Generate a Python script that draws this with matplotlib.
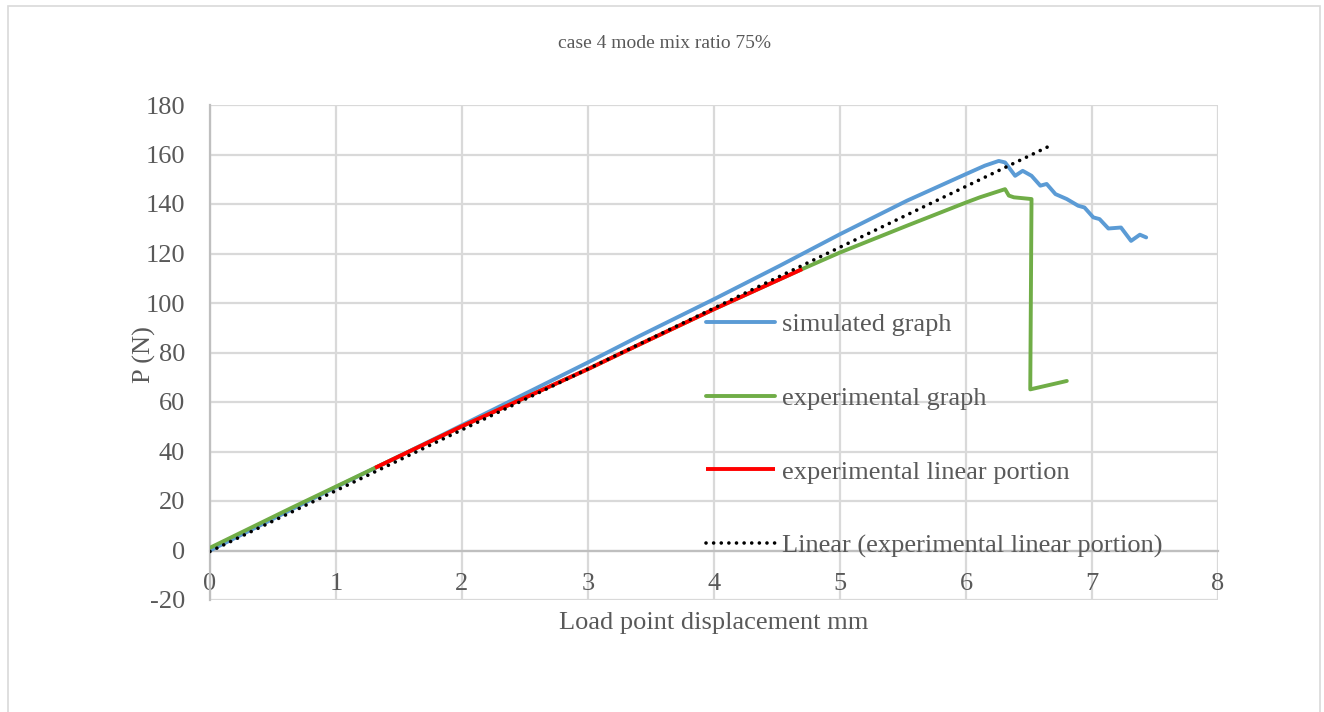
import matplotlib
matplotlib.use("Agg")
import matplotlib.pyplot as plt
from matplotlib.patches import Rectangle

# ---- data ----
sim_x = [0.0, 0.5, 1.0, 1.825, 3.0, 3.41, 4.01, 4.52, 5.0, 5.53, 6.0, 6.15, 6.26, 6.31,
         6.39, 6.45, 6.52, 6.59, 6.64, 6.71, 6.80, 6.89, 6.94, 7.01, 7.06, 7.13, 7.23,
         7.31, 7.38, 7.43]
sim_y = [0.0, 12.8, 25.6, 46.2, 76.0, 86.7, 101.8, 115.0, 127.8, 141.3, 152.1, 155.5, 157.4, 156.8,
         151.4, 153.4, 151.4, 147.4, 148.1, 144.0, 142.0, 139.3, 138.6, 134.6, 133.9, 130.1, 130.5,
         125.1, 127.6, 126.5]

exp_x = [0.0, 0.65, 1.31, 2.0, 3.0, 3.41, 4.0, 4.70, 5.0, 5.53, 6.0, 6.11, 6.31, 6.34, 6.38,
         6.52, 6.51, 6.80]
exp_y = [1.1, 17.3, 33.4, 50.2, 73.3, 83.3, 97.5, 113.7, 120.4, 131.2, 140.6, 142.7, 146.0, 143.4, 142.7,
         142.0, 65.1, 68.5]

lin_x = [1.31, 2.0, 3.0, 3.41, 4.0, 4.70]
lin_y = [33.4, 50.2, 73.3, 83.3, 97.5, 113.7]

trend_x = [0.0, 6.67]
trend_y = [-0.4, 163.6]

x_ticks = [0, 1, 2, 3, 4, 5, 6, 7, 8]
y_ticks = [-20, 0, 20, 40, 60, 80, 100, 120, 140, 160, 180]

title = "case 4 mode mix ratio 75%"
xlabel = "Load point displacement mm"
ylabel = "P (N)"
labels = ["simulated graph", "experimental graph", "experimental linear portion",
          "Linear (experimental linear portion)"]

# ---- style ----
plt.rcParams['font.family'] = ['Liberation Serif', 'DejaVu Serif']
TXT = '#595959'
GRID = '#D9D9D9'
AX = '#BFBFBF'
FS = 19
TFS = 14

W, H = 1324, 712
fig = plt.figure(figsize=(W / 100, H / 100), dpi=100)

# outer chart border
fig.patches.append(Rectangle((8 / W, -0.05), (1320 - 8) / W, 1.05 - 6 / H,
                             transform=fig.transFigure, fill=False, edgecolor=GRID,
                             linewidth=1.2))

ax = fig.add_axes([210 / W, 1 - 600 / H, (1218 - 210) / W, (600 - 105) / H])

LW = 2.8
l1, = ax.plot(sim_x, sim_y, color='#5B9BD5', lw=LW, solid_capstyle='round',
              solid_joinstyle='round', zorder=3)
l2, = ax.plot(exp_x, exp_y, color='#70AD47', lw=LW, solid_capstyle='round',
              solid_joinstyle='round', zorder=4)
l3, = ax.plot(lin_x, lin_y, color='#FF0000', lw=LW, solid_capstyle='butt', zorder=5)
l4, = ax.plot(trend_x, trend_y, color='black', lw=2.6, linestyle=(0, (0.01, 2.1)),
              dash_capstyle='round', zorder=6)

ax.set_xlim(0, 8)
ax.set_ylim(-20, 180)
ax.set_xticks(x_ticks)
ax.set_yticks(y_ticks)
ax.set_xticklabels([str(v) for v in x_ticks])
ax.set_yticklabels([str(v) for v in y_ticks])

ax.grid(True, color=GRID, linewidth=1.6, zorder=0)
ax.set_axisbelow(True)

for s in ['top', 'right']:
    ax.spines[s].set_visible(False)
ax.spines['left'].set_color(AX)
ax.spines['left'].set_linewidth(1.6)
ax.spines['bottom'].set_position(('data', 0))
ax.spines['bottom'].set_color(AX)
ax.spines['bottom'].set_linewidth(1.6)
ax.spines['bottom'].set_zorder(1)

ax.tick_params(axis='x', length=0, pad=16, labelsize=FS, labelcolor=TXT)
ax.tick_params(axis='y', length=0, pad=18, labelsize=FS, labelcolor=TXT)

fig.text(664 / W, 1 - 44 / H, title, ha='center', va='center', fontsize=TFS, color=TXT)
fig.text(714 / W, 1 - 623 / H, xlabel, ha='center', va='center', fontsize=FS, color=TXT)
fig.text(144 / W, 1 - 355 / H, ylabel, ha='center', va='center', fontsize=FS, color=TXT,
         rotation=90)

leg = ax.legend([l1, l2, l3, l4], labels, loc='upper left',
                bbox_to_anchor=((706 - 210) / 1008, (600 - 313) / 495),
                frameon=False, fontsize=FS, labelcolor=TXT, borderpad=0, borderaxespad=0,
                handlelength=2.6, handletextpad=0.27, labelspacing=1.9)

fig.savefig('out.png', dpi=100)
